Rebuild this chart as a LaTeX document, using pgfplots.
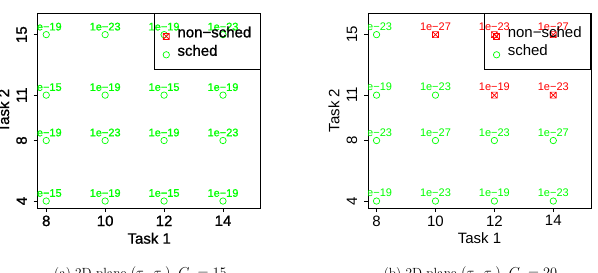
\documentclass[border=0pt]{standalone}
\usepackage{pgfplots}
\pgfplotsset{compat=1.18}
\usepackage{fontspec}
\newfontfamily\arial{Liberation Sans}
\newfontfamily\arialH[FakeBold=1]{Liberation Sans}
\definecolor{Rgreen}{RGB}{0,255,0}
\definecolor{Rred}{RGB}{255,0,0}
\pgfdeclareplotmark{boxx}{%
  \pgfpathrectangle{\pgfpoint{-\pgfplotmarksize}{-\pgfplotmarksize}}{\pgfpoint{2\pgfplotmarksize}{2\pgfplotmarksize}}%
  \pgfpathmoveto{\pgfpoint{-\pgfplotmarksize}{-\pgfplotmarksize}}\pgfpathlineto{\pgfpoint{\pgfplotmarksize}{\pgfplotmarksize}}%
  \pgfpathmoveto{\pgfpoint{-\pgfplotmarksize}{\pgfplotmarksize}}\pgfpathlineto{\pgfpoint{\pgfplotmarksize}{-\pgfplotmarksize}}%
  \pgfusepathqstroke}
\def\lblfont{\fontsize{11}{13}\selectfont\arial}
\pgfplotsset{
  rstyle/.style={
    anchor=south west, scale only axis, width=223pt, height=194.7pt,
    xmin=7.71, xmax=15.28, ymin=3.54, ymax=16.41,
    xtick={8,10,12,14}, ytick={4,8,11,15},
    tick pos=left, tick align=outside, major tick length=4pt,
    axis line style={line width=0.8pt}, tick style={black, line width=0.8pt},
    /pgf/number format/assume math mode=true,
    xticklabel style={anchor=north, inner sep=0pt},
    yticklabel style={rotate=90, anchor=south, inner sep=0pt},
    xticklabel shift=3.4pt, yticklabel shift=6.6pt,
    every axis x label/.style={at={(axis description cs:0.5,0)}, yshift=-30.3pt, anchor=center},
    every axis y label/.style={at={(axis description cs:0,0.5)}, xshift=-34pt, rotate=90, anchor=center},
    xlabel={Task 1}, ylabel={Task 2},
    clip mode=individual, clip marker paths=true,
    legend cell align=left,
    legend image code/.code={%
      \draw[mark repeat=2,mark phase=2,#1] plot coordinates {(0pt,-4pt)(6pt,-4pt)(12pt,-4pt)};},
    legend style={at={(1,1)}, anchor=north east, draw=black, line width=0.8pt, fill=none,
      inner xsep=9pt, inner ysep=9.5pt, row sep=0pt, column sep=8pt,
      nodes={inner xsep=0pt, inner ysep=2.2pt, text height=12pt, text depth=2pt}},
  },
  schedp/.style={only marks, mark=o, color=Rgreen, mark size=3.2pt, mark options={line width=0.7pt},
    scatter, point meta=explicit symbolic,
    scatter/@pre marker code/.code={},
    scatter/@post marker code/.code={\node[inner sep=0pt, anchor=center, font=\lblfont, text=Rgreen] at (0pt,8pt) {\pgfplotspointmeta};}},
  nonschedp/.style={only marks, mark=boxx, color=Rred, mark size=3pt, mark options={line width=0.7pt},
    scatter, point meta=explicit symbolic,
    scatter/@pre marker code/.code={},
    scatter/@post marker code/.code={\node[inner sep=0pt, anchor=center, font=\lblfont, text=Rred] at (0pt,8pt) {\pgfplotspointmeta};}},
}
\begin{document}
\begin{tikzpicture}
% ---- (a) ----
\def\lblfont{\fontsize{11}{13}\selectfont\arialH}
\begin{axis}[rstyle, at={(37.7pt,-208pt)},
  font=\fontsize{15}{18}\selectfont\arialH]
\addlegendimage{only marks, mark=boxx, color=Rred, mark size=3pt, mark options={line width=0.7pt}}
\addlegendentry{non−sched}
\addplot[schedp] coordinates {
(8,15) [1e−19] (10,15) [1e−23] (12,15) [1e−19] (14,15) [1e−23]
(8,11) [1e−15] (10,11) [1e−19] (12,11) [1e−15] (14,11) [1e−19]
(8,8) [1e−19] (10,8) [1e−23] (12,8) [1e−19] (14,8) [1e−23]
(8,4) [1e−15] (10,4) [1e−19] (12,4) [1e−15] (14,4) [1e−19]
};
\addlegendentry{sched}
\end{axis}
% ---- (b) ----
\gdef\lblfont{\fontsize{11}{13}\selectfont\arial}
\begin{axis}[rstyle, at={(368pt,-208pt)},
  font=\fontsize{15}{18}\selectfont\arial]
\addplot[nonschedp] coordinates {
(10,15) [1e−27] (12,15) [1e−23] (14,15) [1e−27]
(12,11) [1e−19] (14,11) [1e−23]
};
\addlegendentry{non−sched}
\addplot[schedp] coordinates {
(8,15) [1e−23]
(8,11) [1e−19] (10,11) [1e−23]
(8,8) [1e−23] (10,8) [1e−27] (12,8) [1e−23] (14,8) [1e−27]
(8,4) [1e−19] (10,4) [1e−23] (12,4) [1e−19] (14,4) [1e−23]
};
\addlegendentry{sched}
\end{axis}
\node[anchor=north, inner sep=0pt, font=\fontsize{13.3}{16}\selectfont] at (140.5pt,-266pt) {(a) 2D plane $(\tau_1,\tau_2)$, $C_2=15$};
\node[anchor=north, inner sep=0pt, font=\fontsize{13.3}{16}\selectfont] at (470.5pt,-266pt) {(b) 2D plane $(\tau_1,\tau_2)$, $C_2=20$};
\pgfresetboundingbox
\useasboundingbox (0pt,-273pt) rectangle (598pt,0pt);
\end{tikzpicture}
\end{document}
